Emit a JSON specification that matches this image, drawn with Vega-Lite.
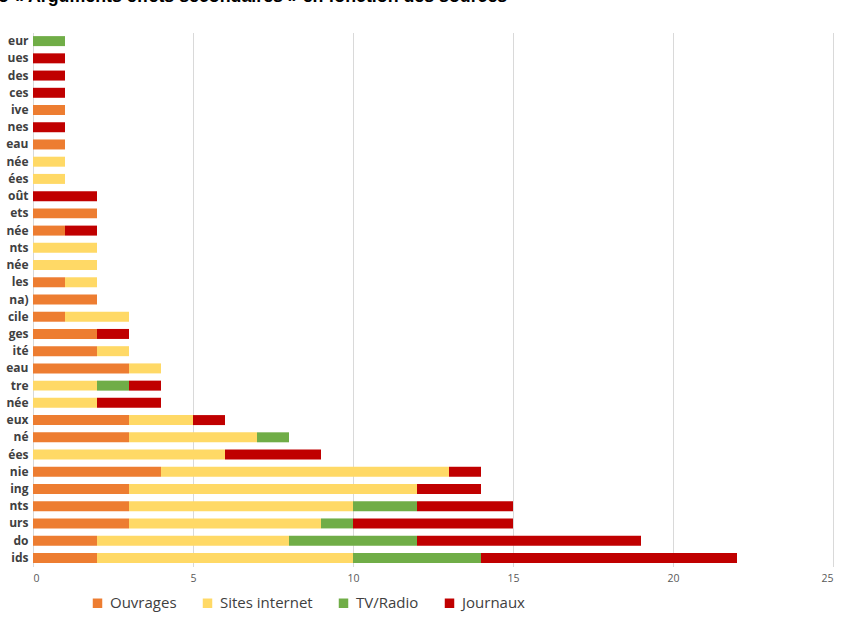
{
  "$schema": "https://vega.github.io/schema/vega-lite/v6.json",
  "width": 800,
  "height": 534,
  "autosize": {"type": "none"},
  "padding": {"left": 33, "top": 32.5, "right": 29, "bottom": 61.5},
  "background": "white",
  "title": {
    "text": "o « Arguments effets secondaires » en fonction des sources",
    "anchor": "start",
    "frame": "group",
    "dx": -35,
    "dy": 15,
    "offset": 28,
    "baseline": "alphabetic",
    "font": "Liberation Sans",
    "fontSize": 17.8,
    "fontWeight": "bold",
    "color": "#000000"
  },
  "data": {
    "values": [
      {"cle": "01 eur", "source": "TV/Radio", "n": 1},
      {"cle": "02 ues", "source": "Journaux", "n": 1},
      {"cle": "03 des", "source": "Journaux", "n": 1},
      {"cle": "04 ces", "source": "Journaux", "n": 1},
      {"cle": "05 ive", "source": "Ouvrages", "n": 1},
      {"cle": "06 nes", "source": "Journaux", "n": 1},
      {"cle": "07 eau", "source": "Ouvrages", "n": 1},
      {"cle": "08 née", "source": "Sites internet", "n": 1},
      {"cle": "09 ées", "source": "Sites internet", "n": 1},
      {"cle": "10 oût", "source": "Journaux", "n": 2},
      {"cle": "11 ets", "source": "Ouvrages", "n": 2},
      {"cle": "12 née", "source": "Ouvrages", "n": 1},
      {"cle": "12 née", "source": "Journaux", "n": 1},
      {"cle": "13 nts", "source": "Sites internet", "n": 2},
      {"cle": "14 née", "source": "Sites internet", "n": 2},
      {"cle": "15 les", "source": "Ouvrages", "n": 1},
      {"cle": "15 les", "source": "Sites internet", "n": 1},
      {"cle": "16 na)", "source": "Ouvrages", "n": 2},
      {"cle": "17 cile", "source": "Ouvrages", "n": 1},
      {"cle": "17 cile", "source": "Sites internet", "n": 2},
      {"cle": "18 ges", "source": "Ouvrages", "n": 2},
      {"cle": "18 ges", "source": "Journaux", "n": 1},
      {"cle": "19 ité", "source": "Ouvrages", "n": 2},
      {"cle": "19 ité", "source": "Sites internet", "n": 1},
      {"cle": "20 eau", "source": "Ouvrages", "n": 3},
      {"cle": "20 eau", "source": "Sites internet", "n": 1},
      {"cle": "21 tre", "source": "Sites internet", "n": 2},
      {"cle": "21 tre", "source": "TV/Radio", "n": 1},
      {"cle": "21 tre", "source": "Journaux", "n": 1},
      {"cle": "22 née", "source": "Sites internet", "n": 2},
      {"cle": "22 née", "source": "Journaux", "n": 2},
      {"cle": "23 eux", "source": "Ouvrages", "n": 3},
      {"cle": "23 eux", "source": "Sites internet", "n": 2},
      {"cle": "23 eux", "source": "Journaux", "n": 1},
      {"cle": "24 né", "source": "Ouvrages", "n": 3},
      {"cle": "24 né", "source": "Sites internet", "n": 4},
      {"cle": "24 né", "source": "TV/Radio", "n": 1},
      {"cle": "25 ées", "source": "Sites internet", "n": 6},
      {"cle": "25 ées", "source": "Journaux", "n": 3},
      {"cle": "26 nie", "source": "Ouvrages", "n": 4},
      {"cle": "26 nie", "source": "Sites internet", "n": 9},
      {"cle": "26 nie", "source": "Journaux", "n": 1},
      {"cle": "27 ing", "source": "Ouvrages", "n": 3},
      {"cle": "27 ing", "source": "Sites internet", "n": 9},
      {"cle": "27 ing", "source": "Journaux", "n": 2},
      {"cle": "28 nts", "source": "Ouvrages", "n": 3},
      {"cle": "28 nts", "source": "Sites internet", "n": 7},
      {"cle": "28 nts", "source": "TV/Radio", "n": 2},
      {"cle": "28 nts", "source": "Journaux", "n": 3},
      {"cle": "29 urs", "source": "Ouvrages", "n": 3},
      {"cle": "29 urs", "source": "Sites internet", "n": 6},
      {"cle": "29 urs", "source": "TV/Radio", "n": 1},
      {"cle": "29 urs", "source": "Journaux", "n": 5},
      {"cle": "30 do", "source": "Ouvrages", "n": 2},
      {"cle": "30 do", "source": "Sites internet", "n": 6},
      {"cle": "30 do", "source": "TV/Radio", "n": 4},
      {"cle": "30 do", "source": "Journaux", "n": 7},
      {"cle": "31 ids", "source": "Ouvrages", "n": 2},
      {"cle": "31 ids", "source": "Sites internet", "n": 8},
      {"cle": "31 ids", "source": "TV/Radio", "n": 4},
      {"cle": "31 ids", "source": "Journaux", "n": 8}
    ]
  },
  "transform": [
    {"calculate": "indexof(['Ouvrages', 'Sites internet', 'TV/Radio', 'Journaux'], datum.source)", "as": "ordre_pile"}
  ],
  "mark": {"type": "bar"},
  "encoding": {
    "y": {
      "field": "cle",
      "type": "nominal",
      "sort": "ascending",
      "scale": {"paddingInner": 0.42, "paddingOuter": 0.21},
      "axis": {
        "title": null,
        "domain": false,
        "ticks": false,
        "labelPadding": 5,
        "labelExpr": "substring(datum.value, 3)",
        "labelFont": "Open Sans",
        "labelFontSize": 12,
        "labelFontWeight": "bold",
        "labelColor": "#404040"
      }
    },
    "x": {
      "field": "n",
      "type": "quantitative",
      "aggregate": "sum",
      "stack": "zero",
      "scale": {"domain": [0, 25], "nice": false},
      "axis": {
        "title": null,
        "values": [0, 5, 10, 15, 20, 25],
        "domain": false,
        "ticks": false,
        "labelPadding": 7,
        "labelFont": "Open Sans",
        "labelFontSize": 10.5,
        "labelColor": "#595959",
        "gridColor": "#d9d9d9",
        "gridWidth": 1
      }
    },
    "order": {"field": "ordre_pile", "type": "quantitative", "aggregate": "min"},
    "color": {
      "field": "source",
      "type": "nominal",
      "sort": ["Ouvrages", "Sites internet", "TV/Radio", "Journaux"],
      "scale": {
        "domain": ["Ouvrages", "Sites internet", "TV/Radio", "Journaux"],
        "range": ["#ED7D31", "#FFD966", "#70AD47", "#C00000"]
      },
      "legend": {
        "title": null,
        "orient": "none",
        "direction": "horizontal",
        "legendX": 57,
        "legendY": 563,
        "symbolType": "square",
        "symbolSize": 90,
        "symbolStrokeWidth": 0,
        "labelFont": "Open Sans",
        "labelFontSize": 15,
        "labelColor": "#404040",
        "columnPadding": 23,
        "labelOffset": 5
      }
    }
  },
  "config": {
    "view": {"stroke": null}
  }
}
